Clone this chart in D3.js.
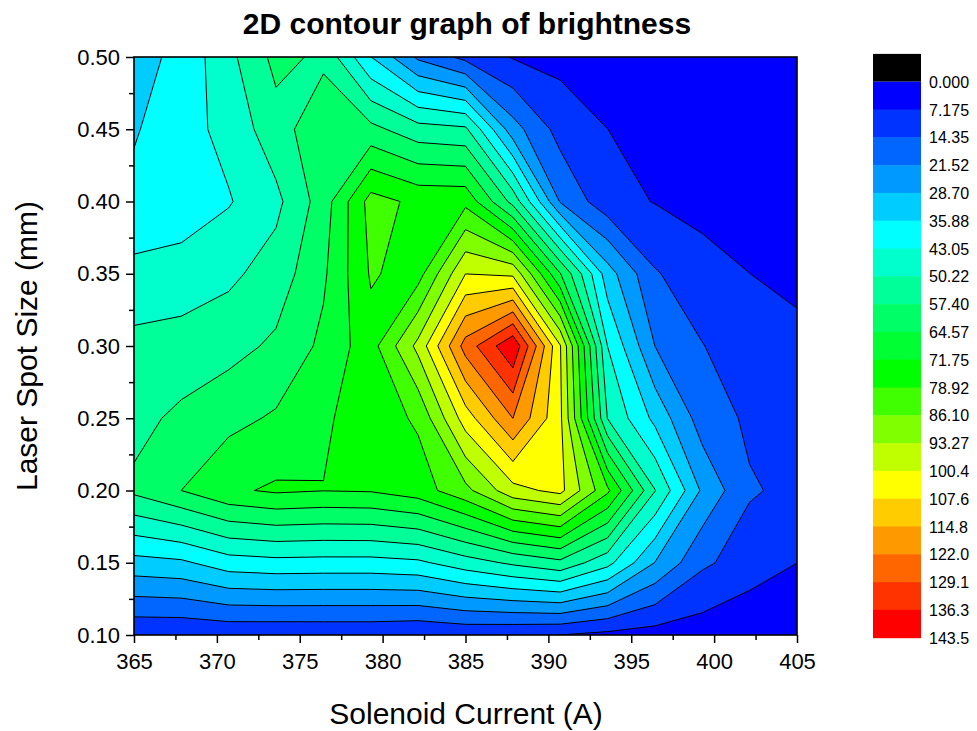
<!DOCTYPE html>
<html><head><meta charset="utf-8">
<script src="https://cdn.jsdelivr.net/npm/d3@7"></script>
<style>
body{margin:0;background:#fff}
svg{display:block}
text{font-family:"Liberation Sans",Arial,Helvetica,sans-serif;fill:#000}
</style>
</head><body>
<svg id="chart" width="977" height="731"></svg>
<script>
// ---- data ----
const xGrid = [365, 367.86, 370.71, 373.57, 376.43, 379.29, 382.14, 385, 387.86, 390.71, 393.57, 396.43, 399.29, 402.14, 405];
const yGrid = [0.10, 0.15, 0.20, 0.25, 0.30, 0.35, 0.40, 0.45, 0.50];
// brightness per row of yGrid (one value per xGrid column)
const row010 = [8.0, 7.9, 8.6, 8.4, 8.5, 8.5, 7.6, 8.7, 8.0, 7.1, 5.3, 4.1, 3.4, 1.0, 2.0];
const row015 = [33.3, 34.6, 39.7, 40.8, 40.5, 40.5, 41.7, 46.9, 51.5, 55.5, 45.3, 28.5, 15.6, 11.0, 7.2];
const row020 = [58.9, 64.6, 70.5, 72.8, 71.9, 72.3, 75.4, 84.0, 98.0, 102.5, 80.4, 50.5, 27.5, 15.0, 12.8];
const row025 = [55.0, 59.1, 62.5, 65.5, 70.8, 75.0, 80.0, 104.0, 122.0, 102.0, 50.0, 34.0, 18.0, 13.2, 10.5];
const row030 = [52.3, 52.5, 54.9, 58.7, 66.2, 76.0, 95.3, 125.0, 142.5, 101.0, 43.0, 21.5, 14.6, 10.0, 9.0];
const row035 = [45.0, 47.0, 48.7, 53.4, 63.4, 79.7, 76.0, 100.4, 99.0, 65.0, 32.0, 15.0, 9.9, 7.2, 5.5];
const row040 = [37.8, 37.8, 42.5, 48.4, 60.9, 81.7, 77.2, 77.0, 55.0, 21.0, 9.7, 6.9, 5.0, 4.5, 4.0];
const row045 = [35.2, 40.2, 45.3, 54.5, 62.0, 59.5, 53.0, 51.5, 24.5, 11.6, 7.2, 4.5, 4.0, 3.5, 3.5];
const row050 = [33.0, 37.9, 48.2, 59.5, 56.0, 36.0, 20.2, 12.3, 6.7, 5.1, 3.5, 3.0, 3.0, 3.0, 3.0];

const levels = [0, 7.175, 14.35, 21.525, 28.70, 35.875, 43.05, 50.225, 57.40, 64.575, 71.75,
                78.925, 86.10, 93.275, 100.45, 107.625, 114.80, 121.975, 129.15, 136.325, 143.5];
const levelLabels = ["0.000","7.175","14.35","21.52","28.70","35.88","43.05","50.22","57.40","64.57","71.75",
                     "78.92","86.10","93.27","100.4","107.6","114.8","122.0","129.1","136.3","143.5"];
const bandColors = ["#0000ff","#0033ff","#0066ff","#0099ff","#00ccff","#00ffff","#00ffcc","#00ff99","#00ff66","#00ff33",
                    "#00ff00","#40ff00","#80ff00","#c0ff00","#ffff00","#ffcc00","#ff9900","#ff6600","#ff3300","#ff0000"];
const belowColor = "#000000";

const xTicks = [365, 370, 375, 380, 385, 390, 395, 400, 405];
const xMinorTicks = [367.5, 372.5, 377.5, 382.5, 387.5, 392.5, 397.5, 402.5];
const yTicks = [0.10, 0.15, 0.20, 0.25, 0.30, 0.35, 0.40, 0.45, 0.50];
const yMinorTicks = [0.125, 0.175, 0.225, 0.275, 0.325, 0.375, 0.425, 0.475];

// ---- layout ----
const svg = d3.select("#chart");
const L = 134, R = 797, T = 57, B = 635;
const x = d3.scaleLinear().domain([365, 405]).range([L, R]);
const y = d3.scaleLinear().domain([0.10, 0.50]).range([B, T]);

const rows = [row010, row015, row020, row025, row030, row035, row040, row045, row050];
const nx = xGrid.length, ny = yGrid.length;
const values = [].concat(...rows);

// grid-index -> data scales (sample i sits at contour coordinate i + 0.5)
const gx = d3.scaleLinear().domain(xGrid.map((d, i) => i + 0.5)).range(xGrid);
const gy = d3.scaleLinear().domain(yGrid.map((d, i) => i + 0.5)).range(yGrid);
const proj = d3.geoTransform({
  point: function(px, py) { this.stream.point(x(gx(px)), y(gy(py))); }
});
const path = d3.geoPath(proj);

const contours = d3.contours().size([nx, ny]).thresholds(levels.slice(0, 20))(values);

svg.append("defs").append("clipPath").attr("id", "plotclip")
  .append("rect").attr("x", L).attr("y", T).attr("width", R - L).attr("height", B - T);

const g = svg.append("g").attr("clip-path", "url(#plotclip)");
g.append("rect").attr("x", L).attr("y", T).attr("width", R - L).attr("height", B - T).attr("fill", bandColors[0]);
g.selectAll("path.fill").data(contours).join("path")
  .attr("class", "fill")
  .attr("d", path)
  .attr("fill", (d, i) => bandColors[i])
  .attr("fill-rule", "evenodd")
  .attr("stroke", "none");
g.selectAll("path.line").data(contours.slice(1)).join("path")
  .attr("class", "line")
  .attr("d", path)
  .attr("fill", "none")
  .attr("stroke", "#000")
  .attr("stroke-width", 1)
  .attr("stroke-linejoin", "round");

// ---- axes ----
const xAxis = svg.append("g").attr("transform", `translate(0,${B})`)
  .call(d3.axisBottom(x).tickValues(xTicks).tickFormat(d3.format("d")).tickSize(8).tickSizeOuter(0).tickPadding(10));
const xMinor = svg.append("g").attr("transform", `translate(0,${B})`)
  .call(d3.axisBottom(x).tickValues(xMinorTicks).tickFormat("").tickSize(5).tickSizeOuter(0));
const yAxis = svg.append("g").attr("transform", `translate(${L},0)`)
  .call(d3.axisLeft(y).tickValues(yTicks).tickFormat(d3.format(".2f")).tickSize(8).tickSizeOuter(0).tickPadding(6));
const yMinor = svg.append("g").attr("transform", `translate(${L},0)`)
  .call(d3.axisLeft(y).tickValues(yMinorTicks).tickFormat("").tickSize(5).tickSizeOuter(0));
[xAxis, xMinor, yAxis, yMinor].forEach(a => {
  a.select(".domain").remove();
  a.selectAll("line").attr("stroke", "#000").attr("stroke-width", 1.5);
  a.selectAll("text").style("font-size", "22px").style("font-family", '"Liberation Sans",Arial,sans-serif');
});

svg.append("rect").attr("x", L).attr("y", T).attr("width", R - L).attr("height", B - T)
  .attr("fill", "none").attr("stroke", "#000").attr("stroke-width", 1.6);

// ---- titles ----
svg.append("text").attr("x", 467).attr("y", 34).attr("text-anchor", "middle")
  .style("font-size", "30px").style("font-weight", "bold").text("2D contour graph of brightness");
svg.append("text").attr("x", 466).attr("y", 724).attr("text-anchor", "middle")
  .style("font-size", "30px").text("Solenoid Current (A)");
svg.append("text").attr("transform", "translate(37,346) rotate(-90)").attr("text-anchor", "middle")
  .style("font-size", "30px").text("Laser Spot Size (mm)");

// ---- colour bar ----
const cb = svg.append("g");
const yb = d3.scaleLinear().domain([0, 143.5]).range([81.7, 637.7]);
const bx = 873, bw = 48;
cb.append("rect").attr("x", bx).attr("y", yb(-7.175)).attr("width", bw).attr("height", yb(0) - yb(-7.175)).attr("fill", belowColor);
cb.selectAll("rect.band").data(bandColors).join("rect").attr("class", "band")
  .attr("x", bx).attr("width", bw)
  .attr("y", (d, i) => yb(levels[i]))
  .attr("height", (d, i) => yb(levels[i + 1]) - yb(levels[i]) + 0.5)
  .attr("fill", d => d);
cb.selectAll("text").data(levelLabels).join("text")
  .attr("x", 929).attr("y", (d, i) => yb(levels[i]) + 6)
  .style("font-size", "16px").text(d => d);
</script>
</body></html>
